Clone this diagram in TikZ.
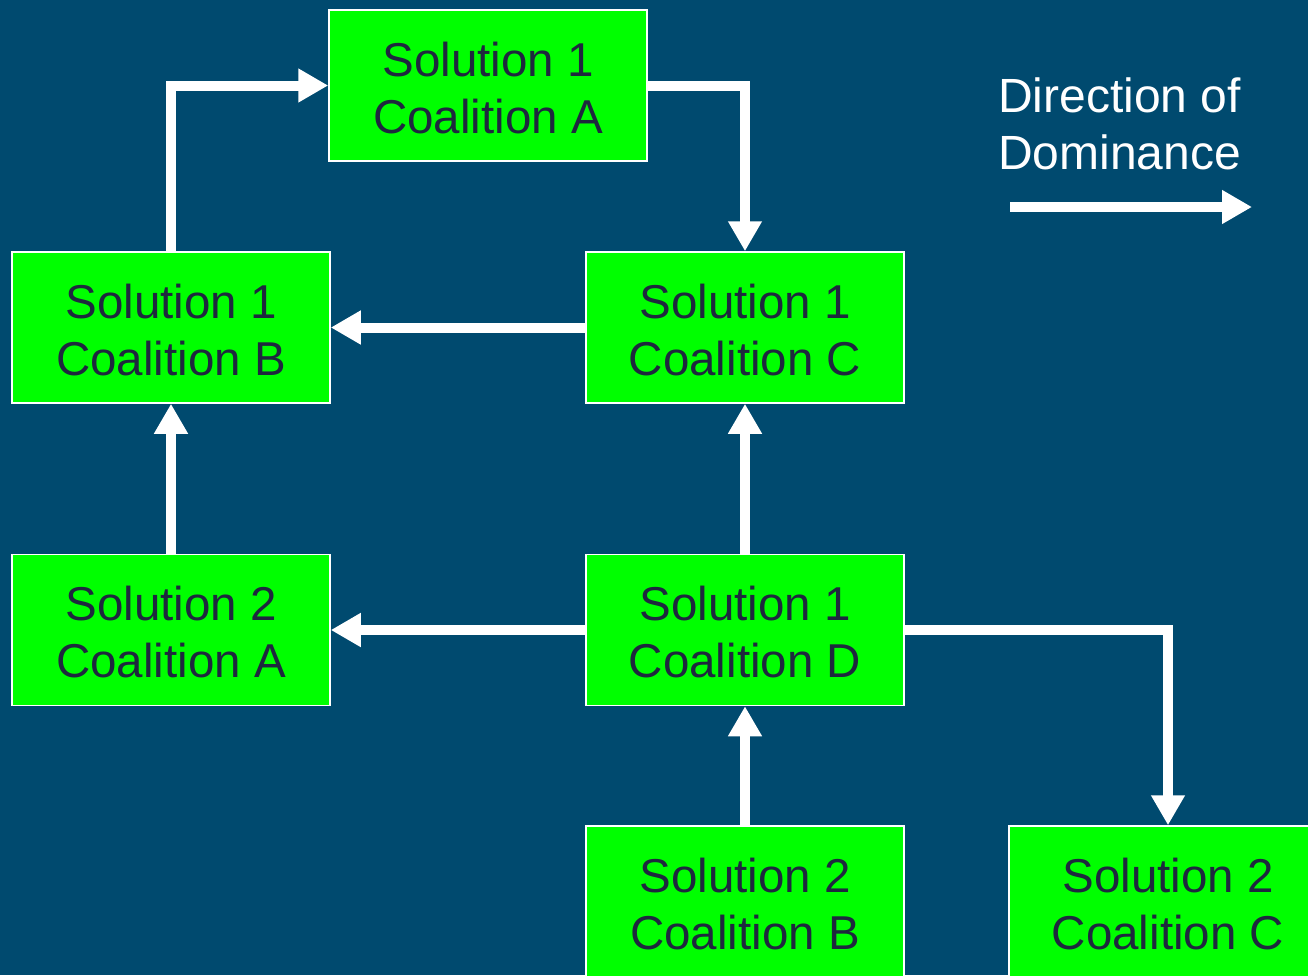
\documentclass[tikz,border=0pt]{standalone}
\usepackage{fontspec}
\setmainfont{Liberation Sans}
\usetikzlibrary{arrows.meta}
\definecolor{bg}{RGB}{0,74,111}
\definecolor{boxgreen}{RGB}{0,255,0}
\definecolor{txt}{RGB}{30,40,62}
\begin{document}
\begin{tikzpicture}[x=1pt,y=-1pt,
  box/.style={draw=white, line width=1.5pt, fill=boxgreen, text=txt,
    minimum width=318pt, minimum height=151pt, inner sep=0pt, align=center,
    font=\fontsize{47.5}{57}\selectfont},
  boxtext/.style={text=txt, align=center, inner sep=0pt,
    font=\fontsize{47.5}{57}\selectfont},
  conn/.style={draw=white, line width=10pt, -{Triangle[width=32pt,length=30pt]}},
  legendtext/.style={text=white, align=left, inner sep=0pt,
    font=\fontsize{48}{57}\selectfont}]
\useasboundingbox (0,0) rectangle (1308,975);
\fill[bg] (0,0) rectangle (1308,975);
\begin{scope}
\clip (0,0) rectangle (1308,975);
\node[box] (a1) at (488,85.5) {};
\node[box] (b1) at (171,327.5) {};
\node[box] (c1) at (745,327.5) {};
\node[box] (a2) at (171,630) {};
\node[box] (d1) at (745,630) {};
\node[box] (b2) at (745,901.5) {};
\node[box] (c2) at (1168,901.5) {};
\node[boxtext] (ta1) at ([yshift=-2.5pt]a1.center) {Solution 1\\Coalition A};
\node[boxtext] (tb1) at ([yshift=-2.5pt]b1.center) {Solution 1\\Coalition B};
\node[boxtext] (tc1) at ([yshift=-2.5pt]c1.center) {Solution 1\\Coalition C};
\node[boxtext] (ta2) at ([yshift=-2.5pt]a2.center) {Solution 2\\Coalition A};
\node[boxtext] (td1) at ([yshift=-2.5pt]d1.center) {Solution 1\\Coalition D};
\node[boxtext] (tb2) at ([yshift=-2.5pt]b2.center) {Solution 2\\Coalition B};
\node[boxtext] (tc2) at ([yshift=-2.5pt]c2.center) {Solution 2\\Coalition C};
\node[legendtext, anchor=north west] (leg) at (998,78) {Direction of\\Dominance};
\coordinate (ls) at (1010,207);
\coordinate (le) at (1252,207);

\draw[conn] (b1.north) |- (a1.west);
\draw[conn] (a1.east) -| (c1.north);
\draw[conn] (c1.west) -- (b1.east);
\draw[conn] (a2.north) -- (b1.south);
\draw[conn] (d1.north) -- (c1.south);
\draw[conn] (d1.west) -- (a2.east);
\draw[conn] (b2.north) -- (d1.south);
\draw[conn] (d1.east) -| (c2.north);
\draw[conn] (ls) -- (le);
\end{scope}
\end{tikzpicture}
\end{document}
